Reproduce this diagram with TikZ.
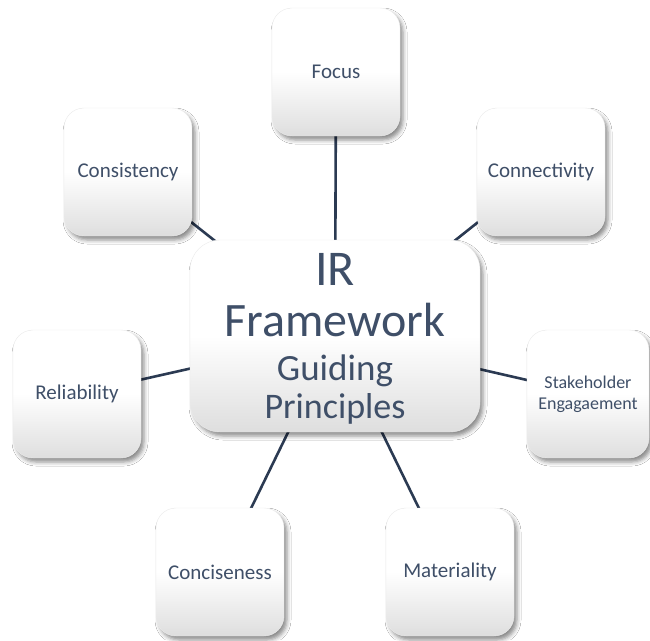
\documentclass[tikz,border=0pt]{standalone}
\usepackage{fontspec}
\setmainfont{Carlito}
\usetikzlibrary{shadows.blur,backgrounds}
\definecolor{labeltext}{HTML}{3F4F68}
\definecolor{linkline}{HTML}{2B3A52}
\tikzset{
  card/.style={rounded corners=20pt, minimum width=128pt, minimum height=128pt,
    top color=white, bottom color=black!13, middle color=white,
    draw=black!8, line width=0.4pt, align=center, text=labeltext,
    font=\fontsize{21}{24}\selectfont,
    blur shadow={shadow xshift=3pt, shadow yshift=-4pt, shadow blur radius=4pt, shadow opacity=45}},
  hub/.style={card, rounded corners=30pt, minimum width=290pt, minimum height=192pt},
  hubtext/.style={text=labeltext, anchor=base, inner sep=0pt},
  link/.style={draw=linkline, line width=2.6pt}
}
\begin{document}
\begin{tikzpicture}[x=1pt,y=-1pt]
\useasboundingbox (0,0) rectangle (650,640);
\node[hub] (hub) at (335,336) {};
\node[hubtext, font=\fontsize{50}{50}\selectfont] (t1) at (335,285) {IR};
\node[hubtext, font=\fontsize{48}{48}\selectfont] (t2) at (335,336) {Framework};
\node[hubtext, font=\fontsize{37}{37}\selectfont] (t3) at (335,380) {Guiding};
\node[hubtext, font=\fontsize{36}{36}\selectfont] (t4) at (335,418) {Principles};
\node[card] (focus) at (336,72) {Focus};
\node[card] (consistency) at (128,172) {Consistency};
\node[card] (connectivity) at (541,172) {Connectivity};
\node[card] (reliability) at (77,394) {Reliability};
\node[card, minimum width=122pt, font=\fontsize{18}{21}\selectfont] (stake) at (588,394) {Stakeholder\\Engagaement};
\node[card] (concise) at (220,572) {Conciseness};
\node[card] (material) at (450,572) {Materiality};
\begin{scope}[on background layer]
\fill[white] (0,0) rectangle (650,640);
\foreach \n in {focus,consistency,connectivity,reliability,stake,concise,material}
  \draw[link] (hub.center) -- (\n.center);
\end{scope}
\end{tikzpicture}
\end{document}
